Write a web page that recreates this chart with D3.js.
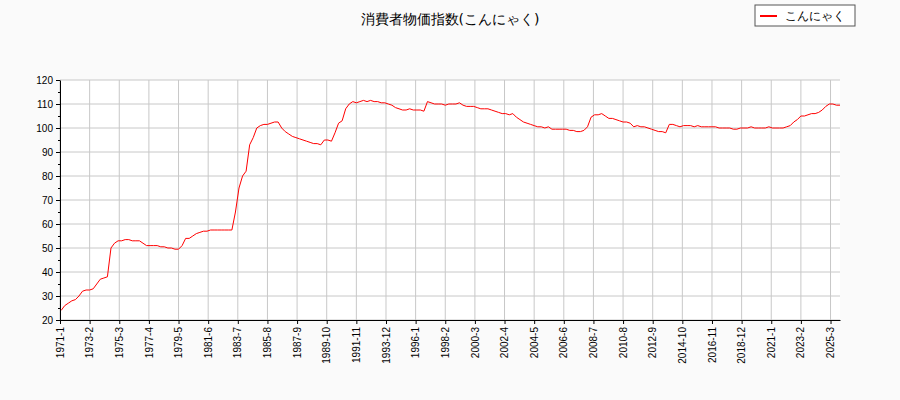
<!DOCTYPE html>
<html><head><meta charset="utf-8">
<script src="https://cdn.jsdelivr.net/npm/d3@7"></script>
<style>body{margin:0;background:#fafafa;font-family:"DejaVu Sans",sans-serif}</style>
</head><body><div id="main"></div>
<script>
// quarterly estimates, starting 1971 Q1
const startYear = 1971
const values = [
  24, 26, 27, 28,  28.5, 30, 32, 32.5,  32.5, 33, 35, 37,  37.5, 38, 50, 52,
  53, 53, 53.5, 53.5,  53, 53, 53, 52,  51, 51, 51, 51,  50.5, 50.5, 50, 50,
  49.5, 49.5, 51, 54,  54, 55, 56, 56.5,  57, 57, 57.5, 57.5,  57.5, 57.5, 57.5, 57.5,
  57.5, 65, 75, 80,  82, 93, 96, 100,  101, 101.5, 101.5, 102,  102.5, 102.5, 100, 98.5,
  97.5, 96.5, 96, 95.5,  95, 94.5, 94, 93.5,  93.5, 93, 95, 95,  94.5, 98, 102, 103,
  108, 110, 111, 110.5,  111, 111.5, 111, 111.5,  111, 111, 110.5, 110.5,  110, 109.5, 108.5, 108,
  107.5, 107.5, 108, 107.5,  107.5, 107.5, 107, 111,  110.5, 110, 110, 110,  109.5, 110, 110, 110,
  110.5, 109.5, 109, 109,  109, 108.5, 108, 108,  108, 107.5, 107, 106.5,  106, 106, 105.5, 106,
  104.5, 103.5, 102.5, 102,  101.5, 101, 100.5, 100.5,  100, 100.5, 99.5, 99.5,  99.5, 99.5, 99.5, 99,
  99, 98.5, 98.5, 99,  100.5, 104.5, 105.5, 105.5,  106, 105, 104, 104,  103.5, 103, 102.5, 102.5,
  102, 100.5, 101, 100.5,  100.5, 100, 99.5, 99,  98.5, 98.5, 98, 101.5,  101.5, 101, 100.5, 101,
  101, 101, 100.5, 101,  100.5, 100.5, 100.5, 100.5,  100.5, 100, 100, 100,  100, 99.5, 99.5, 100,
  100, 100, 100.5, 100,  100, 100, 100, 100.5,  100, 100, 100, 100,  100.5, 101, 102.5, 103.5,
  105, 105, 105.5, 106,  106, 106.5, 107.5, 109,  110, 110, 109.5, 109.5
]
const yTicks = [20, 30, 40, 50, 60, 70, 80, 90, 100, 110, 120]

const data = values.map((v, i) => ({ m: i * 3 + 1, v: v }))
const lastMonth = (2025 - startYear) * 12 + 10
data.push({ m: lastMonth, v: 109.5 })

const margin = { left: 60, right: 60, top: 80, bottom: 80 }
const W = 900, H = 400
const svg = d3.select("#main").append("svg").attr("width", W).attr("height", H)
  .style("font-family", "DejaVu Sans, sans-serif")

const x = d3.scaleLinear().domain([0, lastMonth]).range([margin.left, W - margin.right])
const y = d3.scaleLinear().domain([20, 120]).range([H - margin.bottom, margin.top])

svg.append("rect").attr("x", margin.left).attr("y", margin.top)
  .attr("width", W - margin.left - margin.right).attr("height", H - margin.top - margin.bottom)
  .attr("fill", "white")

const xTicks = d3.range(0, lastMonth + 1, 25)
const lbl = m => `${startYear + Math.floor(m / 12)}-${m % 12 + 1}`

// grid
svg.append("g").selectAll("line").data(xTicks).join("line")
  .attr("x1", d => x(d)).attr("x2", d => x(d)).attr("y1", margin.top).attr("y2", H - margin.bottom)
  .attr("stroke", "#c8c8c8")
svg.append("g").selectAll("line").data(yTicks).join("line")
  .attr("x1", margin.left).attr("x2", W - margin.right).attr("y1", d => y(d)).attr("y2", d => y(d))
  .attr("stroke", "#c8c8c8")

const line = d3.line().x(d => x(d.m)).y(d => y(d.v))
svg.append("path").datum(data).attr("d", line).attr("fill", "none").attr("stroke", "red").attr("stroke-width", 1)

// axes
const xa = svg.append("g").attr("transform", `translate(0,${H - margin.bottom})`)
  .call(d3.axisBottom(x).tickValues(xTicks).tickFormat(lbl).tickSize(4).tickSizeOuter(0))
xa.selectAll("text").attr("transform", "rotate(-90)").attr("x", -7).attr("y", -4)
  .style("text-anchor", "end").style("font-size", "10px")
const ya = svg.append("g").attr("transform", `translate(${margin.left},0)`)
  .call(d3.axisLeft(y).tickValues(yTicks).tickSize(4).tickSizeOuter(0))
ya.selectAll("text").style("font-size", "10px")
svg.append("g").attr("transform", `translate(${margin.left},0)`)
  .call(d3.axisLeft(y).tickValues(d3.range(25, 120, 10)).tickSize(2).tickFormat(""))
  .select(".domain").remove()
svg.selectAll(".domain").attr("stroke", "black")

svg.append("text").attr("x", 450).attr("y", 24).attr("text-anchor", "middle")
  .style("font-size", "14px").text("消費者物価指数(こんにゃく)")

// legend
const lg = svg.append("g").attr("transform", "translate(755,5)")
lg.append("rect").attr("width", 100).attr("height", 21).attr("fill", "white").attr("stroke", "#555")
lg.append("line").attr("x1", 5).attr("x2", 22).attr("y1", 11).attr("y2", 11).attr("stroke", "red").attr("stroke-width", 2)
lg.append("text").attr("x", 30).attr("y", 15).style("font-size", "12px").text("こんにゃく")
</script></body></html>
